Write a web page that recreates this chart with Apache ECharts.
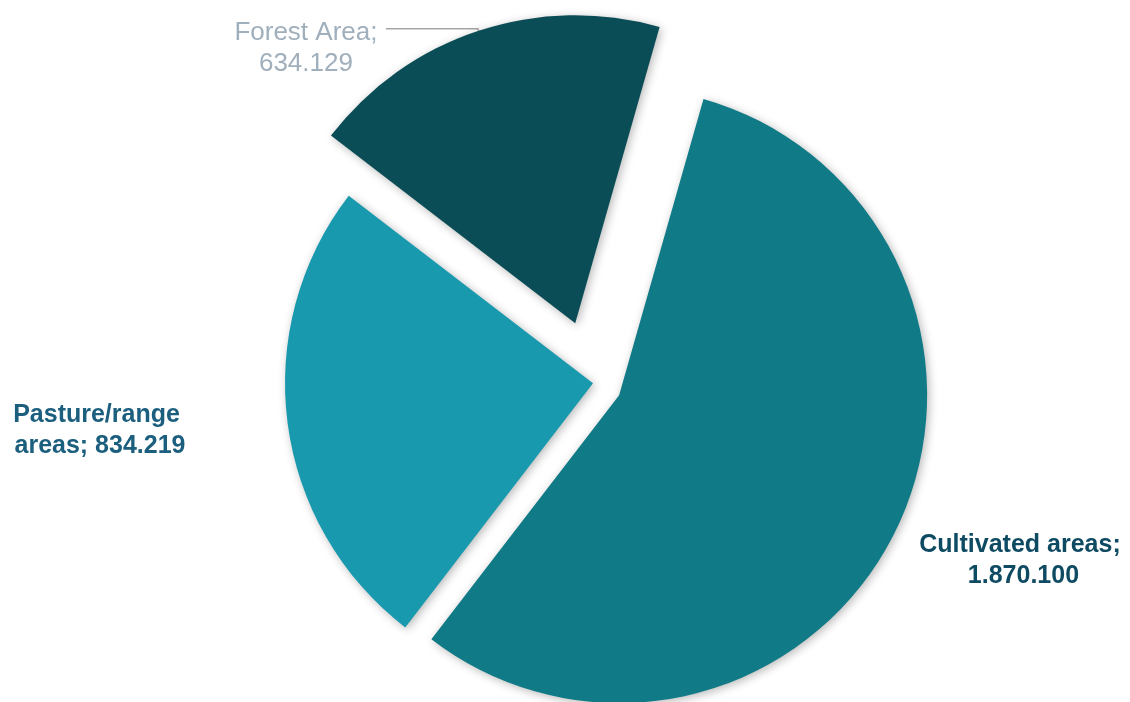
<!DOCTYPE html>
<html><head><meta charset="utf-8">
<script src="https://cdn.jsdelivr.net/npm/echarts@6/dist/echarts.min.js"></script>
<style>html,body{margin:0;padding:0;background:#fff}#c{width:1130px;height:702px}</style>
</head><body><div id="c"></div>
<script>
const categories = ['Cultivated areas', 'Pasture/range areas', 'Forest Area'];
const values = [1870100, 834219, 634129];
const sliceColors = ['#117A87', '#1899AE', '#0B4D57'];
const labelColors = ['#0E4A62', '#1B5E7E', '#A0AFBC'];

function fmt(v){ return String(v).replace(/\B(?=(\d{3})+(?!\d))/g, '.'); }

const chart = echarts.init(document.getElementById('c'), null, {renderer:'canvas'});
const center = [595, 383];
const radius = 308;
const offsets = [27, 2, 63];
const labelPos = [[1020, 561], [100, 431]];
const FONT = 'Liberation Sans, Arial, sans-serif';

function makeSeries(k){
  const s = {
    type:'pie', center: center, radius: radius, startAngle: 74.1, clockwise: true,
    selectedMode: 'multiple', selectedOffset: offsets[k],
    avoidLabelOverlap: false, silent: true, animation: false,
    emphasis: {disabled: true},
    data: categories.map((name,i)=>({
      name: name, value: values[i], selected: i===k,
      itemStyle: i===k ? {color: sliceColors[i], shadowBlur: 10, shadowColor:'rgba(0,0,0,0.28)', shadowOffsetX:2, shadowOffsetY:2}
                       : {color:'rgba(0,0,0,0)', shadowBlur:0, shadowColor:'rgba(0,0,0,0)'},
      label: {show: i===k && k===2},
      labelLine: {show: i===k && k===2}
    }))
  };
  if (k === 2) {
    s.label = {position:'outside', distanceToLabelLine: 5, padding: [38,0,0,0],
      formatter: p => '{a|' + p.name + ';}\n{a|' + fmt(p.value) + '}',
      rich: {a: {fontFamily: FONT, fontSize: 26, color: labelColors[2], width: 150, align:'center', lineHeight: 31}}};
    s.labelLine = {length: 2, length2: 92, smooth: false, lineStyle: {color:'#A6A6A6', width: 1.5}};
  }
  return s;
}

// label-only series for the two right/left labels (placed freely)
const labelSeries = {
  type:'pie', center: center, radius: radius, startAngle: 74.1, clockwise: true,
  avoidLabelOverlap: false, silent: true, animation: false,
  emphasis: {disabled: true},
  itemStyle: {color:'rgba(0,0,0,0)'},
  labelLine: {show: false},
  label: {position:'outside', fontFamily: FONT, fontSize: 25, fontWeight:'bold',
    lineHeight: 31, align:'center', width: 205, overflow:'break',
    formatter: p => p.name + '; ' + fmt(p.value)},
  labelLayout: p => p.dataIndex < 2 ? {x: labelPos[p.dataIndex][0], y: labelPos[p.dataIndex][1], align:'center', verticalAlign:'middle'} : {},
  data: categories.map((name,i)=>({
    name: name, value: values[i],
    label: i < 2 ? {show: true, color: labelColors[i], width: i === 1 ? 182 : 205} : {show: false}
  }))
};

chart.setOption({
  animation: false,
  backgroundColor: '#ffffff',
  series: [makeSeries(0), makeSeries(1), makeSeries(2), labelSeries]
});
</script>
</body></html>
